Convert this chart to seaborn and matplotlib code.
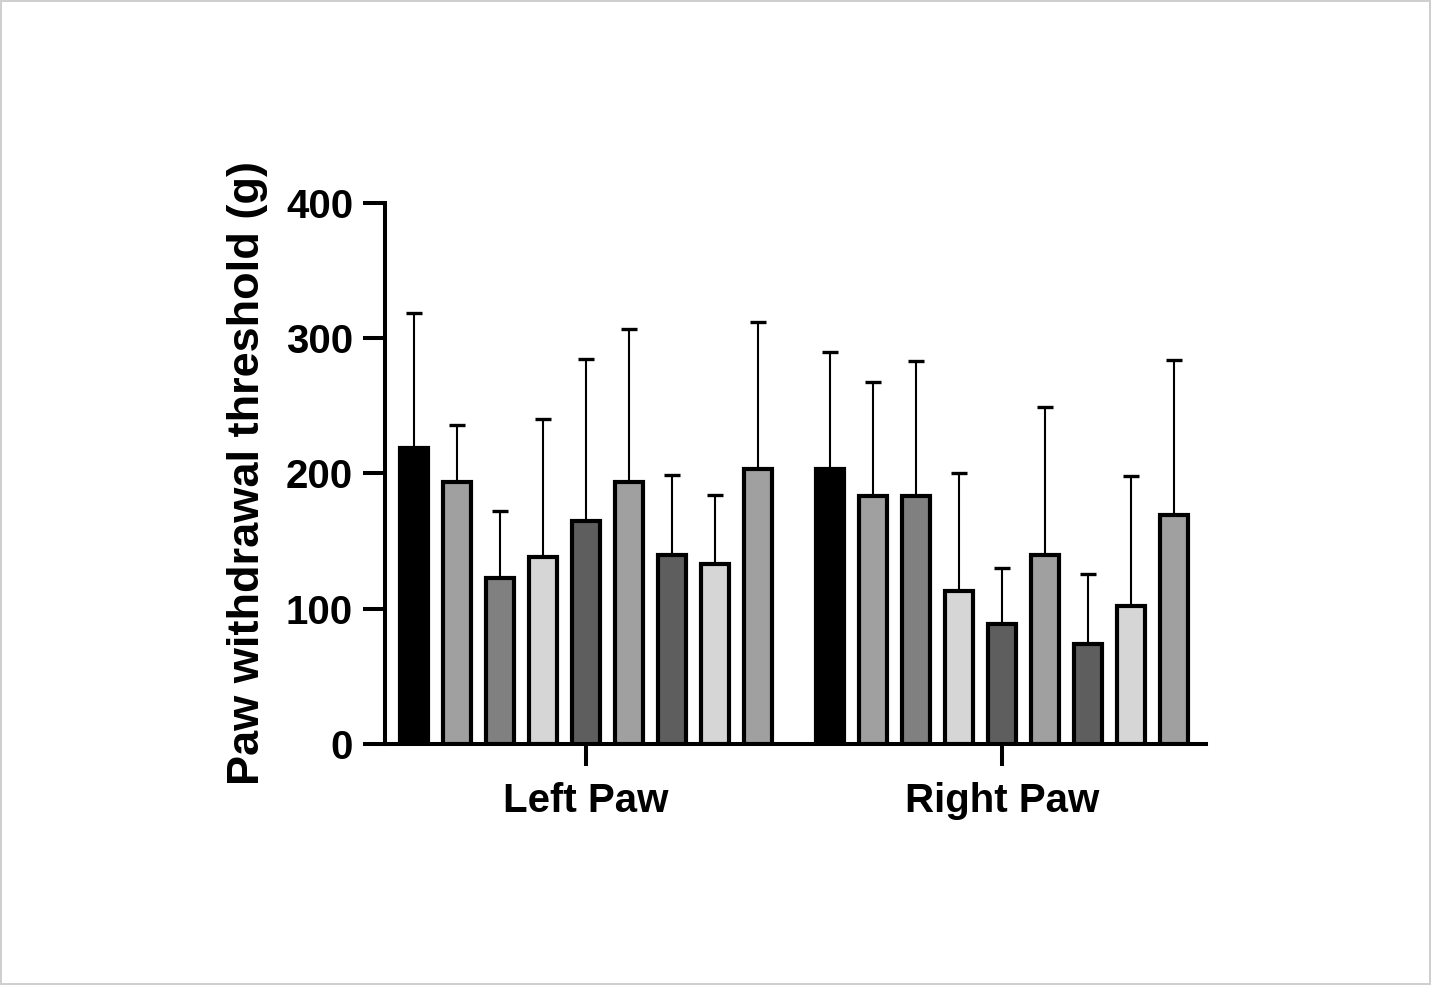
import numpy as np
import pandas as pd
import matplotlib
matplotlib.use('Agg')
import matplotlib.pyplot as plt
import seaborn as sns

# values (mean and upper SD)
sides = ['Left Paw', 'Right Paw']
groups = ['G1', 'G2', 'G3', 'G4', 'G5', 'G6', 'G7', 'G8', 'G9']
left_mean = [219, 194, 123, 138, 165, 194, 140, 133, 203]
left_sd = [100, 42, 49, 102, 120, 113, 59, 51, 109]
right_mean = [203, 183, 183, 113, 89, 140, 74, 102, 169]
right_sd = [87, 85, 100, 87, 41, 109, 52, 96, 115]
bar_colors = ['#000000', '#a0a0a0', '#808080', '#d6d6d6', '#5e5e5e',
              '#a0a0a0', '#5e5e5e', '#d6d6d6', '#a0a0a0']

df = pd.DataFrame({
    'side': np.repeat(sides, len(groups)),
    'group': groups * 2,
    'mean': left_mean + right_mean,
    'sd': left_sd + right_sd,
})

sns.set_style('ticks', {'axes.edgecolor': 'black', 'text.color': 'black',
                        'axes.labelcolor': 'black', 'xtick.color': 'black',
                        'ytick.color': 'black'})
plt.rcParams['font.family'] = ['Liberation Sans', 'DejaVu Sans']
plt.rcParams['font.weight'] = 'bold'

fig = plt.figure(figsize=(14.31, 9.85), dpi=100)
fig.patch.set_edgecolor('#cfcfcf')
fig.patch.set_linewidth(1.5)
ax = fig.add_axes([385 / 1431, 1 - 744 / 985, (1206 - 385) / 1431, (744 - 203) / 985])

sns.barplot(data=df, x='side', y='mean', hue='group', palette=bar_colors,
            width=0.93, gap=0.35, edgecolor='black', linewidth=3.0,
            errorbar=None, legend=False, ax=ax, zorder=3)

# upper-only error bars, placed over the bars seaborn drew
for grp, cont in zip(groups, ax.containers):
    sub = df[df['group'] == grp].set_index('side').loc[sides]
    xs = [b.get_x() + b.get_width() / 2 for b in cont]
    ax.errorbar(xs, sub['mean'], yerr=[np.zeros(len(xs)), sub['sd']],
                fmt='none', ecolor='black', elinewidth=1.5, capsize=5.5,
                capthick=2.4, zorder=2)

ax.set_xlim(-0.482, 1.49)
ax.set_ylim(0, 400)
ax.set_yticks([0, 100, 200, 300, 400])
ax.set_xlabel('')
ax.set_ylabel('Paw withdrawal threshold (g)', fontsize=32.5, fontweight='bold', labelpad=13)
sns.despine(ax=ax)
for s in ['left', 'bottom']:
    ax.spines[s].set_linewidth(2.9)
ax.tick_params(axis='both', length=16, width=2.9, labelsize=29, pad=7)
ax.tick_params(axis='x', pad=11)
for lab in ax.get_xticklabels() + ax.get_yticklabels():
    lab.set_fontweight('bold')

fig.savefig('out.png', dpi=100, facecolor='white', edgecolor=fig.patch.get_edgecolor())
